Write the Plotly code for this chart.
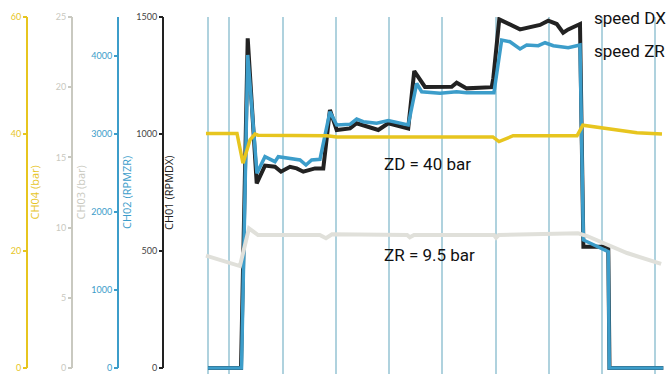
import plotly.graph_objects as go

# ---- data -------------------------------------------------------------
# CH01: speed DX (RPM)
t_dx = [0, 6.0, 6.2, 7.46, 9.15, 10.7, 12.58, 13.71, 15.4, 16.66, 17.9, 20.1, 21.65,
        22.9, 24.17, 26.67, 27.92, 31.98, 33.86, 37.6, 38.74, 40.75, 43.57, 45.77,
        46.7, 48.58, 53.28, 53.58, 54.7, 58.6, 62.35, 63.9, 65.5, 66.7, 67.66,
        69.86, 70.5, 75.17, 75.4, 85.5]
speed_dx = [0, 0, 0, 1409, 789, 865, 860, 839, 860, 853, 839, 853, 853,
            1103, 1017, 1024, 1046, 1017, 1046, 1024, 1269, 1201, 1200, 1202,
            1219, 1195, 1200, 1238, 1490, 1447, 1466, 1484, 1470, 1433, 1447,
            1470, 518, 518, 0, 0]

# CH02: speed ZR (RPM)
t_zr = [0, 6.0, 6.3, 7.46, 9.2, 10.7, 12.58, 13.2, 17.28, 18.4, 19.47, 21.03,
        22.9, 24.17, 26.67, 27.92, 29.16, 31.68, 33.86, 37.6, 39.2, 40.13, 43.57,
        46.7, 48.58, 53.7, 55.15, 56.7, 58.6, 59.85, 62.03, 63.3, 64.85, 67.66,
        69.86, 70.5, 74.55, 75.17, 75.36, 85.5]
speed_zr = [0, 0, 0, 4013, 2496, 2709, 2645, 2709, 2667, 2602, 2667, 2676,
            3286, 3115, 3124, 3192, 3158, 3137, 3171, 3115, 3650, 3542, 3522,
            3542, 3530, 3530, 4205, 4183, 4090, 4141, 4132, 4170, 4132, 4106,
            4141, 1641, 1513, 1491, 0, 0]

# CH03: ZR pressure (bar)
t_ch03 = [-0.38, 6.0, 7.7, 9.4, 21.0, 22.16, 23.3, 37.4, 37.9, 38.7, 53.7, 54.1,
          54.6, 69.5, 71.2, 74.55, 78.7, 85.1]
p_zr = [8.0, 7.26, 9.95, 9.47, 9.47, 9.24, 9.52, 9.47, 9.31, 9.47, 9.47, 9.28,
        9.47, 9.59, 9.4, 8.83, 8.19, 7.41]

# CH04: ZD pressure (bar)
t_ch04 = [-0.38, 5.45, 6.57, 7.9, 8.83, 9.4, 22.35, 24.2, 53.5, 54.65, 57.3,
          69.3, 70.4, 75.5, 80.56, 85.26]
p_zd = [40.1, 40.1, 35.0, 39.0, 40.0, 39.8, 39.7, 39.5, 39.5, 38.7, 39.7,
        39.7, 41.5, 40.8, 40.2, 40.0]

grid_t = [0, 4, 14, 24, 34, 44, 54, 64, 74, 84]

ch01_ticks = [0, 500, 1000, 1500]
ch02_ticks = [0, 1000, 2000, 3000, 4000]
ch03_ticks = [0, 5, 10, 15, 20, 25]
ch04_ticks = [0, 20, 40, 60]

# ---- style ------------------------------------------------------------
YELLOW = "#E7C51F"
GRAY_AX = "#C9C9C0"
GRAY_LN = "#E0E0DA"
BLUE = "#3C9DCA"
BLACK = "#222222"
GRID = "#AFD2DE"

W, H = 667, 374
TOP = 17
PLOT_H = H - TOP


def px_x(p):
    return p / W


def px_y(p):
    return (H - p) / PLOT_H


fig = go.Figure()
fig.add_trace(go.Scatter(x=t_ch03, y=p_zr, yaxis="y3", mode="lines",
                         line=dict(color=GRAY_LN, width=4), hoverinfo="skip"))
fig.add_trace(go.Scatter(x=t_ch04, y=p_zd, yaxis="y4", mode="lines",
                         line=dict(color=YELLOW, width=3.5), hoverinfo="skip"))
fig.add_trace(go.Scatter(x=t_dx, y=speed_dx, yaxis="y", mode="lines",
                         line=dict(color=BLACK, width=4), hoverinfo="skip"))
fig.add_trace(go.Scatter(x=t_zr, y=speed_zr, yaxis="y2", mode="lines",
                         line=dict(color=BLUE, width=3.5), hoverinfo="skip"))

TICKFONT = "Lato, 'Open Sans', sans-serif"
TITLEFONT = "'Open Sans', Lato, sans-serif"


def y_axis(rng, ticks, pos, color, labcolor):
    return dict(range=rng, tickvals=ticks, anchor="free", position=pos,
                side="left", ticks="outside", ticklen=4, tickwidth=2,
                tickcolor=color, showline=False, showgrid=False,
                zeroline=False,
                tickfont=dict(family=TICKFONT, size=9, color=labcolor))


# value 0 sits 6 px above the bottom edge on every scale
ax01 = y_axis([-25.6, 1500], ch01_ticks, px_x(163), BLACK, "#444444")
ax02 = y_axis([-76.9, 4500], ch02_ticks, px_x(118), BLUE, BLUE)
ax02["overlaying"] = "y"
ax03 = y_axis([-0.427, 25], ch03_ticks, px_x(72), GRAY_AX, GRAY_AX)
ax03["overlaying"] = "y"
ax04 = y_axis([-1.026, 60], ch04_ticks, px_x(27), YELLOW, YELLOW)
ax04["overlaying"] = "y"

fig.update_layout(
    width=W, height=H,
    margin=dict(l=0, r=0, t=TOP, b=0),
    paper_bgcolor="white", plot_bgcolor="white",
    showlegend=False,
    xaxis=dict(domain=[205 / W, 1], range=[-0.56, 86.2], tickvals=grid_t,
               showticklabels=False, ticks="", showgrid=True,
               gridcolor=GRID, gridwidth=1.5, zeroline=False, showline=False),
    yaxis=ax01, yaxis2=ax02, yaxis3=ax03, yaxis4=ax04,
)

# axis spines from value 0 to the top of each scale
shapes = []
for xpix, col in [(163, BLACK), (118, BLUE), (72, GRAY_AX), (27, YELLOW)]:
    shapes.append(dict(type="line", xref="paper", yref="paper",
                       x0=px_x(xpix), x1=px_x(xpix), y0=px_y(368), y1=1,
                       line=dict(color=col, width=2)))
fig.update_layout(shapes=shapes)

# axis titles, rotated, right of each spine
titles = [("CH04 (bar)", 34, YELLOW), ("CH03 (bar)", 80, GRAY_AX),
          ("CH02 (RPMZR)", 126.5, BLUE), ("CH01 (RPMDX)", 168.5, BLACK)]
for txt, xpix, col in titles:
    fig.add_annotation(text=txt, xref="paper", yref="paper",
                       x=px_x(xpix), y=px_y(192.5), textangle=-90,
                       showarrow=False, xanchor="center", yanchor="middle",
                       font=dict(family=TITLEFONT, size=11, color=col))

LABFONT = "Roboto, sans-serif"
labels = [("speed DX", 592, 18.5, 17), ("speed ZR", 592, 51.5, 17),
          ("ZD = 40 bar", 382, 164, 17), ("ZR = 9.5 bar", 382, 255, 17)]
for txt, xpix, ypix, size in labels:
    fig.add_annotation(text=txt, xref="paper", yref="paper",
                       x=px_x(xpix), y=px_y(ypix), showarrow=False,
                       xanchor="left", yanchor="middle",
                       font=dict(family=LABFONT, size=size, color="#111111"))

fig.write_html("out.html")
